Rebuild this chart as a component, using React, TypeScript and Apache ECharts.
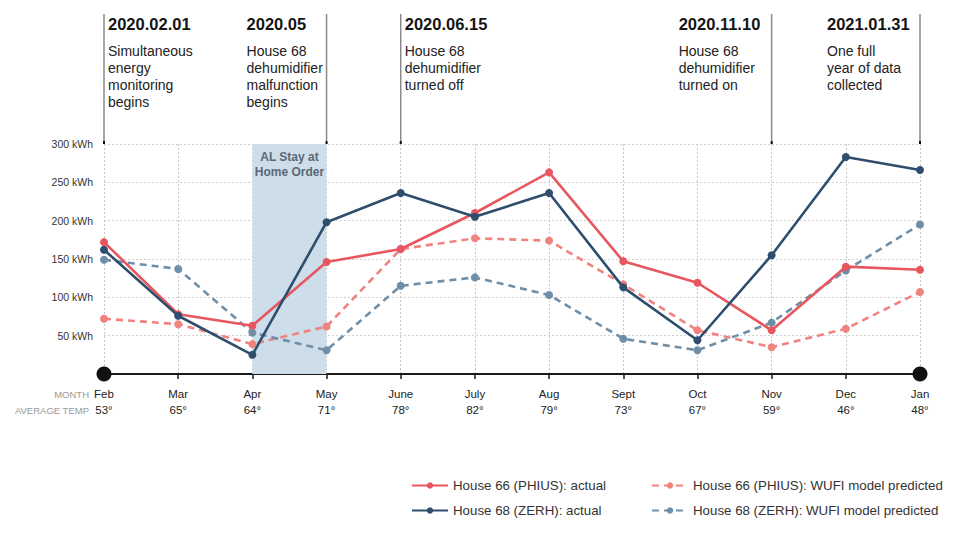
import React, { useEffect, useRef } from "react";
import * as echarts from "echarts";

const months = ["Feb", "Mar", "Apr", "May", "June", "July", "Aug", "Sept", "Oct", "Nov", "Dec", "Jan"];
const avgTemps = ["53°", "65°", "64°", "71°", "78°", "82°", "79°", "73°", "67°", "59°", "46°", "48°"];

const house66Actual = [172, 78, 63, 146, 163, 210, 263, 147, 119, 57, 140, 136];
const house68Actual = [162, 76, 25, 198, 236, 205, 236, 113, 44, 155, 283, 266];
const house66Predicted = [72, 65, 39, 62, 163, 177, 174, 117, 57, 35, 59, 107];
const house68Predicted = [149, 137, 54, 31, 115, 126, 103, 46, 31, 67, 135, 195];

const seriesNames = [
  "House 66 (PHIUS): actual",
  "House 68 (ZERH): actual",
  "House 66 (PHIUS): WUFI model predicted",
  "House 68 (ZERH): WUFI model predicted",
];

const shadedFrom = "Apr";
const shadedTo = "May";
const shadedLabel = "AL Stay at\nHome Order";

const annotationMonths = ["Feb", "May", "June", "Nov", "Jan"];
const annotationDates = ["2020.02.01", "2020.05", "2020.06.15", "2020.11.10", "2021.01.31"];
const annotationTexts = [
  "Simultaneous\nenergy\nmonitoring\nbegins",
  "House 68\ndehumidifier\nmalfunction\nbegins",
  "House 68\ndehumidifier\nturned off",
  "House 68\ndehumidifier\nturned on",
  "One full\nyear of data\ncollected",
];
// text offset relative to the annotation line (layout)
const annotationOffsets = [4, -80, 4, -93, -93];

const FONT = "'Liberation Sans', Arial, sans-serif";
const RED = "#e8575f";
const NAVY = "#2f4e6e";
const PINK = "#f0837f";
const SLATE = "#6f8ea8";

export default function App() {
  const ref = useRef<HTMLDivElement>(null);
  useEffect(() => {
    if (!ref.current) return;
    const chart = echarts.init(ref.current, undefined, { renderer: "svg" });
    const lineSeries = (name: string, data: number[], color: string, dashed: boolean, z: number) => ({
      type: "line",
      name,
      data,
      z,
      symbol: "circle",
      symbolSize: 8,
      showSymbol: true,
      itemStyle: { color },
      lineStyle: { color, width: 2.6, type: dashed ? [7, 5] : "solid" },
    });
    const legendBase = {
      orient: "vertical",
      top: 479,
      padding: 0,
      itemGap: 12,
      itemWidth: 36,
      itemHeight: 8,
      itemStyle: { borderWidth: 0 },
      textStyle: { fontSize: 13.3, color: "#333", fontFamily: FONT },
    };
    chart.setOption({
      animation: false,
      textStyle: { fontFamily: FONT },
      grid: { left: 104, right: 40, top: 144, bottom: 165 },
      legend: [
        { ...legendBase, left: 411, data: [seriesNames[0], seriesNames[1]] },
        { ...legendBase, left: 651, data: [seriesNames[2], seriesNames[3]] },
      ],
      xAxis: {
        type: "category",
        data: months,
        boundaryGap: false,
        axisLine: { lineStyle: { color: "#1a1a1a", width: 2 } },
        axisTick: { show: true, length: 5, lineStyle: { color: "#1a1a1a", width: 1.5 } },
        splitLine: { show: true, lineStyle: { color: "#c8c8c8", type: [2, 2], width: 1 } },
        axisLabel: {
          margin: 12,
          interval: 0,
          formatter: (v: string, i: number) => `{m|${v}}\n{t|${avgTemps[i]}}`,
          rich: {
            m: { fontSize: 11.5, color: "#222", lineHeight: 16, fontFamily: FONT },
            t: { fontSize: 11.5, color: "#222", lineHeight: 16, fontFamily: FONT },
          },
        },
      },
      yAxis: {
        type: "value",
        min: 0,
        max: 300,
        interval: 50,
        axisLine: { show: false },
        axisTick: { show: false },
        splitLine: { show: true, lineStyle: { color: "#d0d0d0", type: [2, 2], width: 1 } },
        axisLabel: {
          margin: 11,
          fontSize: 10.5,
          color: "#333",
          formatter: (v: number) => (v === 0 ? "" : `${v} kWh`),
        },
      },
      series: [
        {
          ...lineSeries(seriesNames[2], house66Predicted, PINK, true, 2),
          markArea: {
            silent: true,
            itemStyle: { color: "#cddeea" },
            label: {
              show: true,
              position: "insideTop",
              distance: 5,
              color: "#5b6877",
              fontWeight: "bold",
              fontSize: 12,
              lineHeight: 15,
              fontFamily: FONT,
            },
            data: [[{ xAxis: shadedFrom, name: shadedLabel }, { xAxis: shadedTo }]],
          },
        },
        lineSeries(seriesNames[3], house68Predicted, SLATE, true, 2),
        lineSeries(seriesNames[0], house66Actual, RED, false, 3),
        lineSeries(seriesNames[1], house68Actual, NAVY, false, 4),
        {
          type: "scatter",
          name: "ends",
          data: [[months[0], 0], [months[months.length - 1], 0]],
          symbolSize: 15,
          itemStyle: { color: "#111", opacity: 1 },
          emphasis: { disabled: true },
          clip: false,
          z: 10,
          silent: true,
        },
      ],
    });

    const topY = chart.convertToPixel({ yAxisIndex: 0 }, 300) as number;
    const zeroY = chart.convertToPixel({ yAxisIndex: 0 }, 0) as number;
    const firstX = chart.convertToPixel({ xAxisIndex: 0 }, months[0]) as number;
    const graphics: any[] = [];
    annotationMonths.forEach((m, i) => {
      const x = chart.convertToPixel({ xAxisIndex: 0 }, m) as number;
      graphics.push({
        type: "line",
        shape: { x1: x, y1: 14, x2: x, y2: topY },
        style: { stroke: "#8a8a8a", lineWidth: 1.5 },
        silent: true,
      });
      graphics.push({
        type: "line",
        shape: { x1: x, y1: topY - 3, x2: x, y2: topY },
        style: { stroke: "#111", lineWidth: 2 },
        silent: true,
      });
      const tx = x + annotationOffsets[i];
      graphics.push({
        type: "text",
        x: tx,
        y: 15,
        style: {
          text: annotationDates[i],
          font: `bold 16.5px ${FONT}`,
          fill: "#151515",
          textAlign: "left",
          textVerticalAlign: "top",
        },
        silent: true,
      });
      graphics.push({
        type: "text",
        x: tx,
        y: 42,
        style: {
          text: annotationTexts[i],
          font: `14px ${FONT}`,
          lineHeight: 17,
          fill: "#222",
          textAlign: "left",
          textVerticalAlign: "top",
        },
        silent: true,
      });
    });
    graphics.push({
      type: "text",
      x: firstX - 15,
      y: zeroY + 20,
      style: { text: "MONTH", font: `9.5px ${FONT}`, fill: "#999", textAlign: "right", textVerticalAlign: "middle" },
      silent: true,
    });
    graphics.push({
      type: "text",
      x: firstX - 15,
      y: zeroY + 36,
      style: { text: "AVERAGE TEMP", font: `9.5px ${FONT}`, fill: "#999", textAlign: "right", textVerticalAlign: "middle" },
      silent: true,
    });
    chart.setOption({ graphic: graphics });

    return () => chart.dispose();
  }, []);
  return <div ref={ref} style={{ width: 960, height: 539, position: "absolute", left: 0, top: 0 }} />;
}
